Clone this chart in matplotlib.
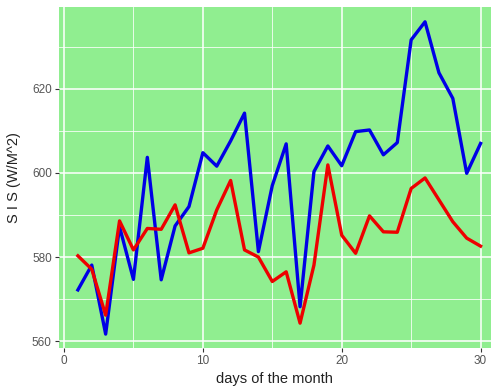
import matplotlib.pyplot as plt
from matplotlib.ticker import MultipleLocator

plt.rcParams["font.family"] = ["Liberation Sans", "DejaVu Sans"]

# daily surface incoming shortwave values for two series
days = list(range(1, 31))
sis_blue = [572.2, 578.1, 561.7, 587.2, 574.7, 603.7, 574.6, 587.4, 592.0, 604.8,
            601.6, 607.6, 614.2, 581.3, 597.0, 606.9, 568.2, 600.3, 606.4, 601.7,
            609.8, 610.2, 604.3, 607.2, 631.6, 635.9, 623.8, 617.7, 599.9, 607.0]
sis_red = [580.3, 577.1, 566.2, 588.6, 581.7, 586.8, 586.6, 592.4, 581.0, 582.1,
           591.2, 598.2, 581.7, 580.0, 574.2, 576.5, 564.3, 578.1, 601.9, 585.2,
           580.9, 589.8, 586.0, 585.9, 596.3, 598.8, 593.6, 588.4, 584.5, 582.6]

fig = plt.figure(figsize=(4.91, 3.91), dpi=100)
ax = fig.add_axes([0.1196, 0.11, 0.8804, 0.873])
ax.set_facecolor("#90EE90")

ax.plot(days, sis_blue, color="#0000E6", lw=2.4, zorder=3)
ax.plot(days, sis_red, color="#EE0000", lw=2.4, zorder=3)

ax.set_xlim(-0.38, 30.75)
ax.set_ylim(558.4, 639.5)
ax.xaxis.set_major_locator(MultipleLocator(10))
ax.xaxis.set_minor_locator(MultipleLocator(5))
ax.yaxis.set_major_locator(MultipleLocator(20))
ax.yaxis.set_minor_locator(MultipleLocator(10))

ax.grid(which="major", color="white", lw=1.1, zorder=1)
ax.grid(which="minor", color="white", lw=0.55, zorder=1)
ax.set_axisbelow(True)
for s in ax.spines.values():
    s.set_visible(False)

ax.tick_params(which="major", length=3, width=0.8, color="#333333",
               labelcolor="#555555", labelsize=8.5, pad=2)
ax.tick_params(which="minor", length=0)

ax.set_xlabel("days of the month", fontsize=10.5, color="#222222", labelpad=4)
ax.set_ylabel("S I S (W/M^2)", fontsize=10.5, color="#222222", labelpad=8)

fig.savefig("out.png", dpi=100)
